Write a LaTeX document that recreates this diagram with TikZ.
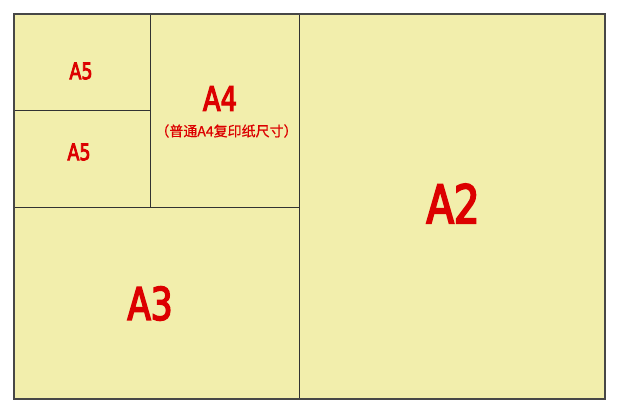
\documentclass[tikz,border=0pt]{standalone}
\usepackage{fontspec}
\newfontfamily\labfont[FakeStretch=0.76,FakeBold=3.5]{DejaVu Sans}
\newfontfamily\cjk[FakeBold=0.8]{Noto Sans CJK SC}
\definecolor{paper}{RGB}{242,238,172}
\definecolor{labred}{RGB}{220,0,0}
\definecolor{edge}{RGB}{50,50,50}
\begin{document}
\begin{tikzpicture}[x=1pt,y=-1pt,
  sheet/.style={draw=edge,line width=0.9pt},
  big/.style={text=labred,font=\labfont\fontsize{#1}{#1}\selectfont,inner sep=0pt,anchor=center},
  sub/.style={text=labred,font=\cjk\fontsize{14}{14}\selectfont,inner sep=0pt}]
\useasboundingbox (0,0) rectangle (620,413);
\fill[paper] (14,14) rectangle (605,399);
% regions
\draw[sheet] (14,14) rectangle (150,110);
\draw[sheet] (14,110) rectangle (150,207);
\draw[sheet] (150,14) rectangle (299,207);
\draw[sheet] (14,207) rectangle (299,399);
\draw[sheet] (299,14) rectangle (605,399);
\draw[draw=edge!90,line width=2pt] (14,14) rectangle (605,399);
% labels
\node[big=23] (a5a) at (81,71) {A5};
\node[big=23] (a5b) at (79,152) {A5};
\node[big=34] (a4) at (220,98.5) {A4};
\node[sub] (a4s) at (226.5,131) {（普通A4复印纸尺寸）};
\node[big=53] (a2) at (453,203.5) {A2};
\node[big=45] (a3) at (150,303.5) {A3};
\end{tikzpicture}
\end{document}
